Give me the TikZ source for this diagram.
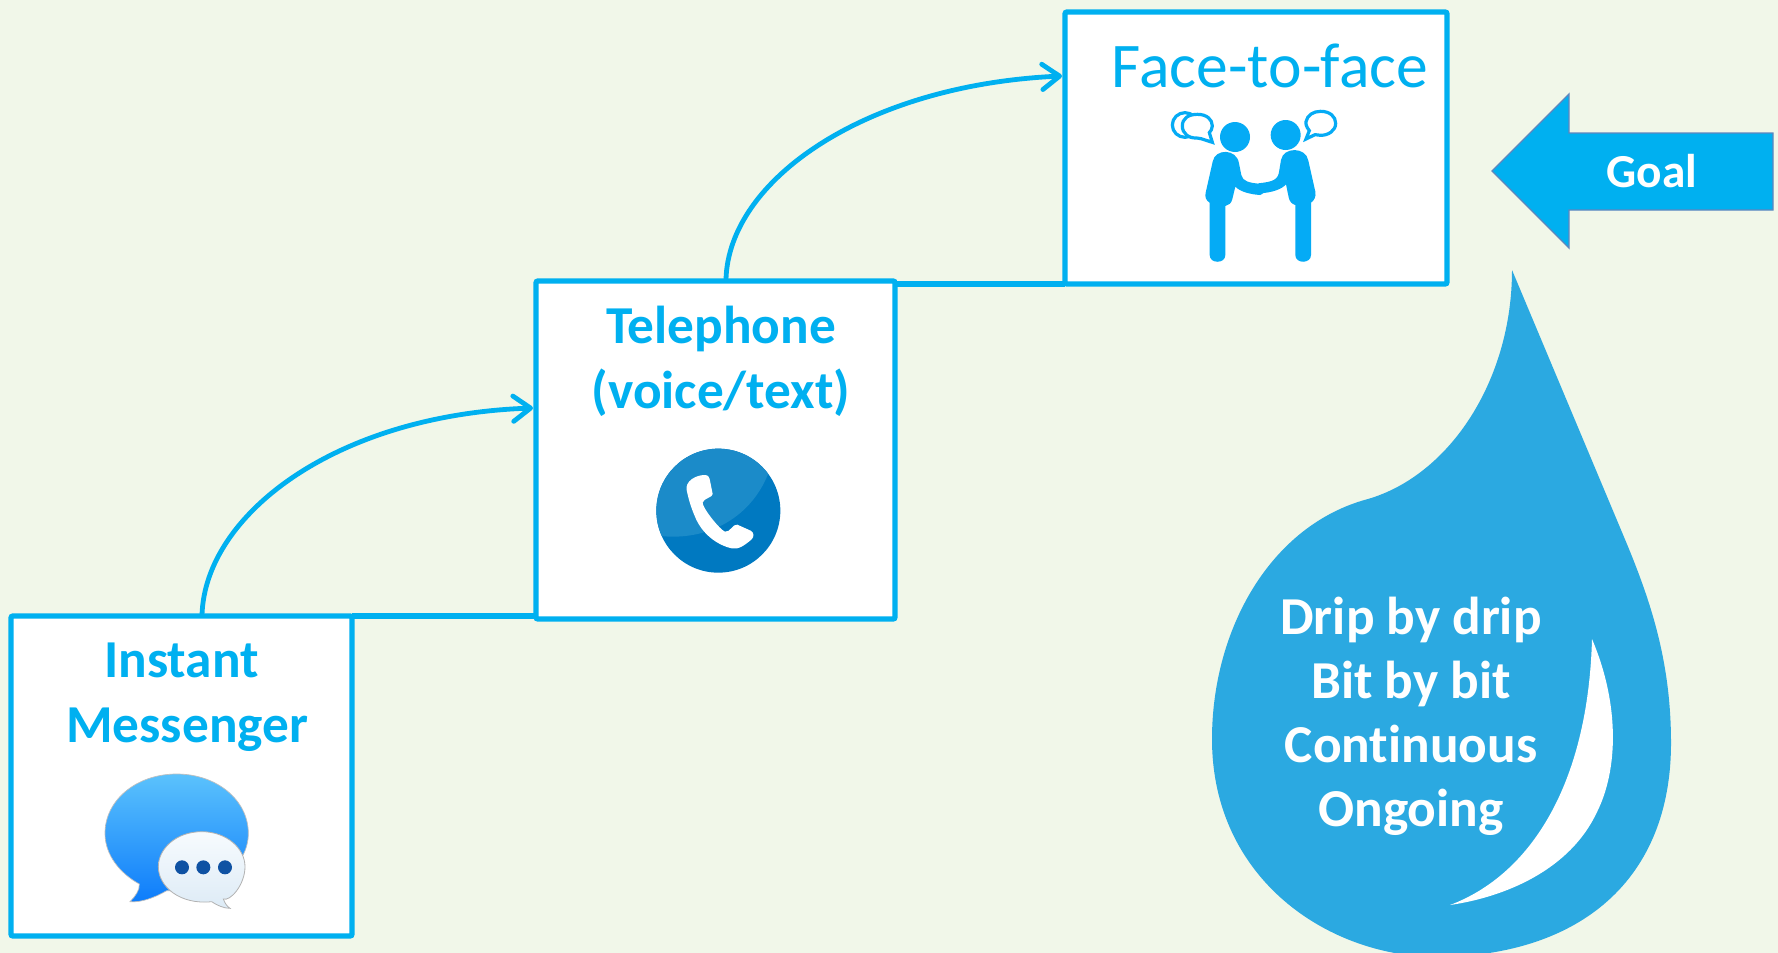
\documentclass[tikz,border=0pt]{standalone}
\usepackage{fontspec}
\setmainfont[Ligatures=NoCommon]{Carlito}
\usetikzlibrary{arrows.meta,calc}
\definecolor{bgc}{HTML}{F1F7E9}
\definecolor{cy}{HTML}{00B0F0}
\definecolor{figc}{HTML}{05ABF5}
\definecolor{dropc}{HTML}{2BA9E1}
\definecolor{goalb}{HTML}{5F86BE}
\definecolor{phd}{HTML}{0079C1}
\definecolor{phl}{HTML}{1B8BC9}
\definecolor{msgt}{HTML}{5BC2FC}
\definecolor{msgb}{HTML}{0D7CFB}
\definecolor{msgw}{HTML}{DDEBF6}
\definecolor{msgwt}{HTML}{F7FBFE}
\definecolor{msgd}{HTML}{0F52A3}
\tikzset{
  box/.style={draw=cy,fill=white,line width=4pt,rounded corners=1.5pt,outer sep=0pt,inner sep=0pt,anchor=north west},
  link/.style={draw=cy,line width=4pt},
  flow/.style={draw=cy,line width=3.6pt,-{Straight Barb[length=13pt,width=19pt,round]},line cap=round},
  heading/.style={text=cy,font=\bfseries\fontsize{40}{48.6}\selectfont,inner sep=0pt,anchor=base},
}
\begin{document}
\begin{tikzpicture}[x=0.75pt,y=-0.75pt]
\path[use as bounding box,fill=bgc] (0,0) rectangle (1778,953);
% boxes
\node[box,minimum width=255.75pt,minimum height=240pt] (im) at (11,616) {};
\node[box,minimum width=269.25pt,minimum height=253.5pt] (tel) at (536,281) {};
\node[box,minimum width=286.5pt,minimum height=204pt] (face) at (1065,12) {};
% links between boxes
\draw[link] (im.north east) -- (im.north east -| tel.west);
\draw[link] (tel.east |- face.south) -- (face.south west);
% curved arrows
\coordinate (c1s) at (202,615);
\coordinate (c1e) at (533,408);
\coordinate (c2s) at (726,279);
\coordinate (c2e) at (1062,76);
\draw[flow] (c1s) .. controls (205,515) and (335,415) .. (c1e);
\draw[flow] (c2s) .. controls (729,180) and (865,85) .. (c2e);
% titles
\node[heading,align=left,anchor=base west] (imt) at (66,742) {\hspace*{28.5pt}Instant\\Messenger};
\node[heading,align=center] (telt) at (721,408) {Telephone\\(voice/text)};
\node[text=cy,font=\fontsize{47.7}{56}\selectfont,inner sep=0pt,anchor=base] (facet) at (1270,87) {Face-to-face};
% message icon
\begin{scope}[shift={(0,600)},x=0.25pt,y=-0.25pt]
  \path[draw=black!25,line width=0.5pt,top color=msgt,bottom color=msgb]
    (530,522) .. controls (650,522) and (745,600) .. (745,700)
    .. controls (745,800) and (640,878) .. (500,872)
    .. controls (460,895) and (420,908) .. (390,905)
    .. controls (405,890) and (420,870) .. (418,852)
    .. controls (360,820) and (315,765) .. (315,700)
    .. controls (315,600) and (410,522) .. (530,522) -- cycle;
  \path[draw=black!30,line width=0.6pt,top color=msgwt,bottom color=msgw]
    (605,695) .. controls (680,695) and (735,745) .. (735,800)
    .. controls (735,855) and (690,905) .. (670,897)
    .. controls (675,910) and (680,918) .. (690,925)
    .. controls (670,925) and (650,915) .. (635,905)
    .. controls (540,915) and (475,860) .. (475,800)
    .. controls (475,745) and (530,695) .. (605,695) -- cycle;
  \fill[msgd] (546,802) circle[radius=21] (610,802) circle[radius=21] (675,802) circle[radius=21];
\end{scope}
% phone icon
\begin{scope}[shift={(620,420)},x=0.25pt,y=-0.25pt]
  \fill[phd] (295,272) circle[radius=186];
  \begin{scope}
    \clip (295,272) circle[radius=186];
    \fill[phl] (100,345) .. controls (250,370) and (390,300) .. (445,160) -- (445,60) -- (100,60) -- cycle;
  \end{scope}
  \fill[white] (200,210) .. controls (195,185) and (225,165) .. (255,165)
    .. controls (265,165) and (268,172) .. (270,182)
    -- (278,222) .. controls (279,232) and (250,235) .. (248,248)
    .. controls (246,262) and (300,330) .. (315,335)
    .. controls (330,338) and (340,310) .. (352,314)
    -- (392,332) .. controls (402,337) and (403,350) .. (395,358)
    .. controls (375,375) and (355,390) .. (335,385)
    .. controls (290,375) and (245,340) .. (225,290)
    .. controls (212,260) and (205,235) .. (200,210) -- cycle;
\end{scope}
% handshake icon
\begin{scope}[shift={(1040,0)},x=0.25pt,y=-0.25pt]
  \fill[figc] (585,411) circle[radius=45] (737,405) circle[radius=45];
  \fill[figc] (518,485) .. controls (525,445) and (590,445) .. (597,490)
    -- (604,525) .. controls (608,545) and (630,548) .. (655,551)
    .. controls (675,553) and (680,580) .. (660,585)
    .. controls (630,583) and (600,575) .. (586,560)
    -- (577,597) .. controls (574,610) and (566,616) .. (556,618)
    -- (556,765) .. controls (556,792) and (509,792) .. (509,765)
    -- (509,608) .. controls (498,602) and (494,590) .. (497,578) -- cycle;
  \fill[figc] (723,480) .. controls (730,440) and (798,440) .. (805,482)
    -- (826,575) .. controls (829,590) and (822,602) .. (813,608)
    -- (813,765) .. controls (813,792) and (766,792) .. (766,765)
    -- (766,615) .. controls (755,612) and (749,605) .. (746,592)
    -- (738,553) .. controls (725,568) and (695,578) .. (660,580)
    -- (655,550) .. controls (700,545) and (715,540) .. (718,510) -- cycle;
  \begin{scope}[draw=figc,fill=white,line width=2.4pt]
    \draw (435,375) ellipse[x radius=38,y radius=37];
    \filldraw (470,414) .. controls (445,415) and (427,400) .. (427,378)
      .. controls (427,355) and (445,343) .. (472,343)
      .. controls (500,343) and (517,358) .. (517,378)
      .. controls (517,388) and (512,392) .. (508,398)
      -- (517,427) -- (483,416) -- cycle;
    \filldraw (842,334) .. controls (870,334) and (887,350) .. (887,370)
      .. controls (887,392) and (865,406) .. (842,406)
      -- (825,404) -- (798,417) -- (808,392)
      .. controls (798,380) and (797,370) .. (798,365)
      .. controls (802,345) and (820,334) .. (842,334) -- cycle;
  \end{scope}
\end{scope}
% goal arrow
\draw[draw=goalb,fill=cy,line width=1pt,line join=miter]
  (1492,171) -- (1569,94) -- (1569,133) -- (1773,133) -- (1773,210) -- (1569,210) -- (1569,248) -- cycle;
\node[text=white,font=\bfseries\fontsize{35.5}{42}\selectfont,inner sep=0pt,anchor=base] (goal) at (1652,187) {Goal};
% drop
\fill[dropc] (1512,270) .. controls (1512,380) and (1450,475) .. (1368,499)
  .. controls (1270,525) and (1212,630) .. (1212,739)
  .. controls (1212,880) and (1330,958) .. (1440,957)
  .. controls (1580,955) and (1671,880) .. (1671,743)
  .. controls (1671,660) and (1650,599) .. (1624,537) -- cycle;
\fill[white] (1592,639) .. controls (1620,705) and (1618,770) .. (1597,812)
  .. controls (1570,870) and (1505,897) .. (1450,905)
  .. controls (1530,875) and (1588,785) .. (1592,639) -- cycle;
\node[text=white,font=\bfseries\fontsize{40}{48}\selectfont,inner sep=0pt,align=center,anchor=base] (drip) at (1411,826) {Drip by drip\\Bit by bit\\Continuous\\Ongoing};
\end{tikzpicture}
\end{document}
